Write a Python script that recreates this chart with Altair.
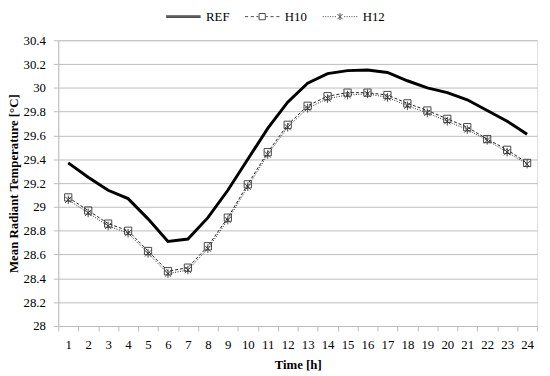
import altair as alt
import pandas as pd

hours = list(range(1, 25))
series_names = ["REF", "H10", "H12"]
ref = [29.37, 29.25, 29.14, 29.07, 28.90, 28.71, 28.73, 28.91, 29.14, 29.40, 29.66, 29.88,
       30.04, 30.12, 30.145, 30.15, 30.13, 30.06, 30.00, 29.96, 29.90, 29.81, 29.72, 29.61]
h10 = [29.08, 28.97, 28.86, 28.80, 28.63, 28.46, 28.49, 28.67, 28.91, 29.19, 29.46, 29.69,
       29.85, 29.93, 29.96, 29.96, 29.94, 29.87, 29.81, 29.74, 29.67, 29.57, 29.48, 29.37]
h12 = [29.06, 28.95, 28.84, 28.78, 28.61, 28.44, 28.47, 28.65, 28.89, 29.17, 29.44, 29.67,
       29.83, 29.91, 29.94, 29.95, 29.92, 29.85, 29.79, 29.72, 29.65, 29.56, 29.46, 29.36]
y_ticks = [28, 28.2, 28.4, 28.6, 28.8, 29, 29.2, 29.4, 29.6, 29.8, 30, 30.2, 30.4]

rows = []
for name, vals in zip(series_names, [ref, h10, h12]):
    for h, v in zip(hours, vals):
        rows.append({"hour": h, "value": v, "series": name})
df = pd.DataFrame(rows)

FONT = "Liberation Serif"
GRID = "#bdbdbd"
MK = "#333333"

# marker glyphs (unit space, scaled by symbol size)
square = "M-0.21,-0.21L0.21,-0.21L0.21,0.21L-0.21,0.21Z"
aster = "M-0.18,-0.18L0.18,0.18M-0.18,0.18L0.18,-0.18M0,-0.25L0,0.25"
# legend glyphs: line sample + marker
leg_ref = "M-1,-0.05L1,-0.05M-1,0L1,0M-1,0.05L1,0.05"
leg_h10 = ("M-1,0L-0.82,0M-0.66,0L-0.48,0M-0.34,0L-0.2,0"
           "M0.2,0L0.34,0M0.48,0L0.66,0M0.82,0L1,0"
           "M-0.18,-0.18L0.18,-0.18L0.18,0.18L-0.18,0.18Z")
leg_h12 = ("M-1,0L-0.94,0M-0.86,0L-0.8,0M-0.72,0L-0.66,0M-0.58,0L-0.52,0"
           "M-0.44,0L-0.38,0M-0.3,0L-0.24,0"
           "M0.24,0L0.3,0M0.38,0L0.44,0M0.52,0L0.58,0M0.66,0L0.72,0"
           "M0.8,0L0.86,0M0.94,0L1,0"
           "M-0.15,-0.15L0.15,0.15M-0.15,0.15L0.15,-0.15M0,-0.2L0,0.2")

x_enc = alt.X("hour:O",
              scale=alt.Scale(type="band", paddingInner=0, paddingOuter=0),
              axis=alt.Axis(title="Time [h]", labelAngle=0, tickBand="extent",
                            grid=False, domainColor=GRID, tickColor=GRID, tickSize=5,
                            labelFont=FONT, labelFontSize=13, labelColor="#000",
                            labelPadding=8, titleFont=FONT, titleFontSize=13,
                            titleFontWeight="bold", titleColor="#000", titlePadding=7))
y_enc = alt.Y("value:Q",
              scale=alt.Scale(domain=[28, 30.4], nice=False, zero=False),
              axis=alt.Axis(title="Mean Radiant Temperature [°C]", values=y_ticks,
                            format="~g", grid=True, gridColor=GRID, domainColor=GRID,
                            tickColor=GRID, tickSize=5, labelFont=FONT, labelFontSize=13,
                            labelColor="#000", labelPadding=8, titleFont=FONT,
                            titleFontSize=13, titleFontWeight="bold", titleColor="#000",
                            titleX=-38, titleY=145, titleAngle=270,
                            titleBaseline="bottom", titleAlign="center"))

line_ref = alt.Chart().transform_filter(alt.datum.series == "REF").mark_line(
    color="#000", strokeWidth=3).encode(x=x_enc, y=y_enc)
line_h10 = alt.Chart().transform_filter(alt.datum.series == "H10").mark_line(
    color="#222", strokeWidth=1, strokeDash=[3, 2]).encode(x=x_enc, y=y_enc)
line_h12 = alt.Chart().transform_filter(alt.datum.series == "H12").mark_line(
    color="#222", strokeWidth=1, strokeDash=[1, 1.5]).encode(x=x_enc, y=y_enc)

legend_layer = alt.Chart().transform_filter(alt.datum.value < 0).mark_point(
    filled=False, size=1225, color="#000", strokeWidth=1
).encode(
    x=x_enc, y=y_enc,
    shape=alt.Shape("series:N",
                    scale=alt.Scale(domain=series_names, range=[leg_ref, leg_h10, leg_h12]),
                    legend=alt.Legend(title=None, orient="none", legendX=109, legendY=-42,
                                      direction="horizontal", symbolSize=1225,
                                      symbolStrokeColor="#000", symbolStrokeWidth=1,
                                      symbolFillColor="transparent",
                                      labelFont=FONT, labelFontSize=13, labelColor="#000",
                                      labelOffset=5, columnPadding=13, padding=0)),
)

pts10 = alt.Chart().transform_filter(alt.datum.series == "H10").mark_point(
    filled=False, size=1225, shape=square, color=MK, strokeWidth=0.9, opacity=1
).encode(x=x_enc, y=y_enc)

pts12 = alt.Chart().transform_filter(alt.datum.series == "H12").mark_point(
    filled=False, size=1225, shape=aster, color=MK, strokeWidth=0.9, opacity=1
).encode(x=x_enc, y=y_enc)

chart = alt.layer(line_ref, line_h10, line_h12, legend_layer, pts10, pts12, data=df).properties(
    width=486, height=290,
    autosize=alt.AutoSizeParams(type="none"),
    padding={"left": 51, "top": 30, "right": 5, "bottom": 48},
).configure_view(stroke=None).configure(background="white")

chart.save("out.html", embed_options={"renderer": "svg", "actions": False})
